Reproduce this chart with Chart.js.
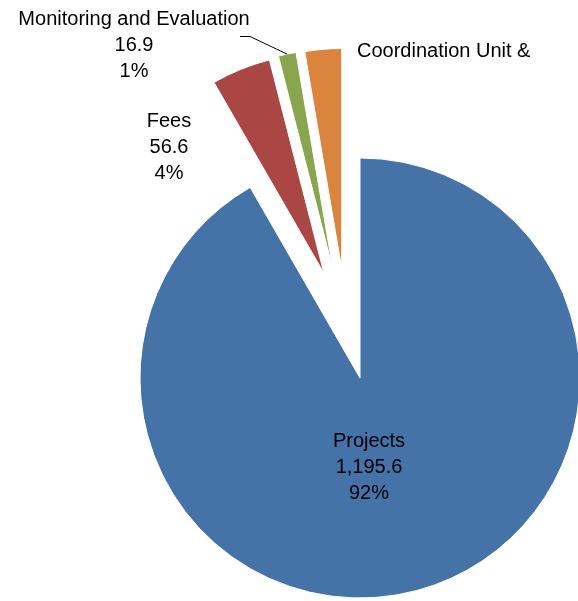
<!DOCTYPE html>
<html>
<head>
<meta charset="utf-8">
<script src="https://cdn.jsdelivr.net/npm/chart.js@4.4.1/dist/chart.umd.min.js"></script>
<style>
  html, body { margin: 0; padding: 0; background: #fff; overflow: hidden; }
  #wrap { position: relative; width: 578px; height: 601px; }
</style>
</head>
<body>
<div id="wrap"><canvas id="pieChart" width="578" height="601"></canvas></div>
<script>
// datos
const categories = ['Projects', 'Fees', 'Monitoring and Evaluation', 'Coordination Unit &'];
const values = [1195.6, 56.6, 16.9, 35.0];
const colours = ['#4572A7', '#AA4643', '#89A54E', '#DB843D'];

// separacion de cada porcion (px), direccion (grados desde arriba) y etiquetas
const explode = [0, 111, 112, 111];
const explodeDir = [0, -19, -14, -9.5];
const labelPos = [
    { x: 369, y: 447, lines: 3, align: 'center' },
    { x: 169, y: 127, lines: 3, align: 'center' },
    { x: 134, y: 25, lines: 3, align: 'center' },
    { x: 357, y: 57, lines: 1, align: 'left' }
];
const lineGap = 26;
const total = values.reduce((a, b) => a + b, 0);

// mueve las porciones hacia afuera
const explodePlugin = {
    id: 'explode',
    beforeDatasetsDraw(chart) {
        const area = chart.chartArea;
        const cx = (area.left + area.right) / 2;
        const cy = (area.top + area.bottom) / 2;
        chart.getDatasetMeta(0).data.forEach((arc, i) => {
            const dir = (explodeDir[i] - 90) * Math.PI / 180;
            arc.x = cx + Math.cos(dir) * explode[i];
            arc.y = cy + Math.sin(dir) * explode[i];
        });
    }
};

// etiquetas: nombre, valor y porcentaje
const labelPlugin = {
    id: 'sliceLabels',
    afterDatasetsDraw(chart) {
        const ctx = chart.ctx;
        const arcs = chart.getDatasetMeta(0).data;
        ctx.save();
        ctx.fillStyle = '#000';
        ctx.font = '20px "Liberation Sans", Arial, sans-serif';
        ctx.textBaseline = 'alphabetic';
        categories.forEach((name, i) => {
            const p = labelPos[i];
            const txt = [
                name,
                values[i].toLocaleString('en-US', { minimumFractionDigits: 1 }),
                Math.round(values[i] / total * 100) + '%'
            ].slice(0, p.lines);
            ctx.textAlign = p.align;
            txt.forEach((t, k) => ctx.fillText(t, p.x, p.y + k * lineGap));
        });

        // linea guia de Monitoring and Evaluation
        const arc = arcs[2];
        const mid = (arc.startAngle + arc.endAngle) / 2;
        const ex = arc.x + Math.cos(mid) * arc.outerRadius;
        const ey = arc.y + Math.sin(mid) * arc.outerRadius;
        ctx.strokeStyle = '#000';
        ctx.lineWidth = 1;
        ctx.beginPath();
        ctx.moveTo(240, 36.5);
        ctx.lineTo(250, 36.5);
        ctx.lineTo(ex, ey);
        ctx.stroke();
        ctx.restore();
    }
};

const ctx = document.getElementById('pieChart').getContext('2d');
const chartInstance = new Chart(ctx, {
    type: 'pie',
    data: {
        labels: categories,
        datasets: [{
            data: values,
            backgroundColor: colours,
            borderColor: '#ffffff',
            borderWidth: 1,
            clip: false
        }]
    },
    options: {
        responsive: false,
        animation: false,
        devicePixelRatio: 1,
        events: [],
        radius: 220,
        layout: {
            padding: { left: 142, top: 155, right: 0, bottom: 0 }
        },
        plugins: {
            legend: { display: false },
            tooltip: { enabled: false }
        }
    },
    plugins: [explodePlugin, labelPlugin]
});
</script>
</body>
</html>
